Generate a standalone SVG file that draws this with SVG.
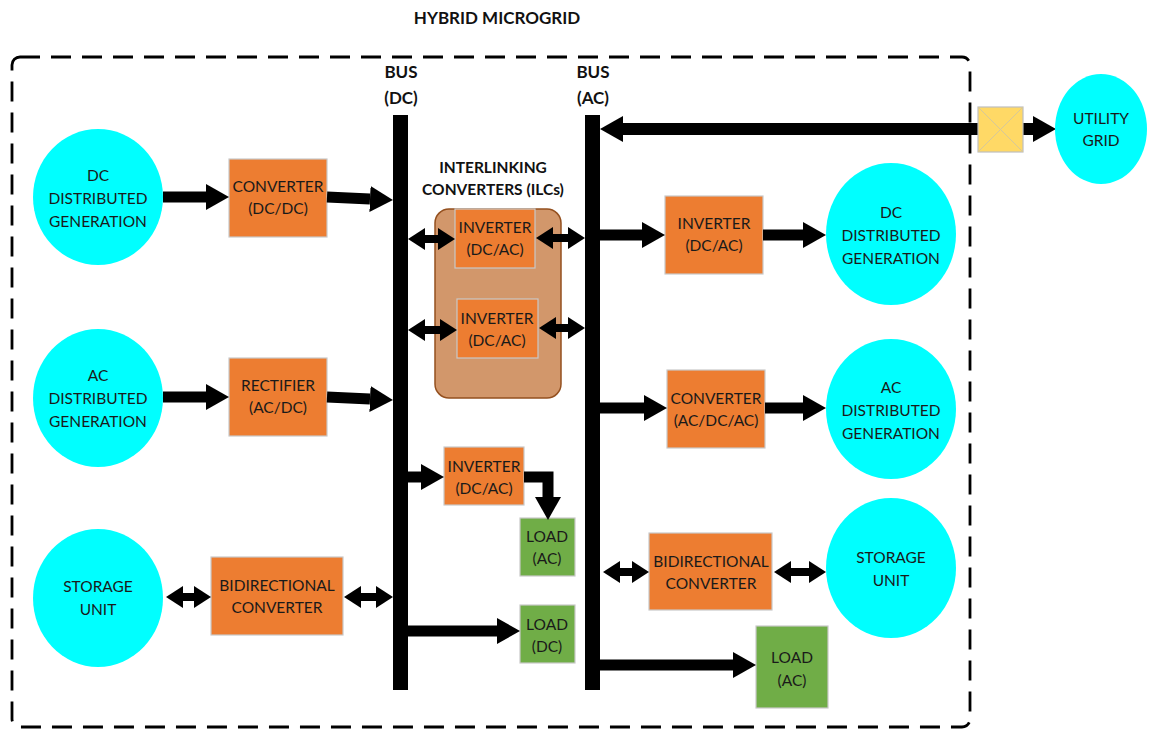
<svg xmlns="http://www.w3.org/2000/svg" width="1152" height="731" viewBox="0 0 1152 731">
  <style>
    text { font-family: Lato, "Open Sans", "Liberation Sans", sans-serif; font-size: 15.5px; fill: #1a1a1a; text-anchor: middle; }
    .bold { font-weight: bold; font-size: 17px; fill: #111; }
    .src { fill: #00FFFF; }
    .conv { fill: #ED7D31; stroke: #C9C9C9; stroke-width: 1.2; }
    .load { fill: #70AD47; stroke: #C9C9C9; stroke-width: 1.2; }
    .bus { fill: #000; }
    .arrow { stroke: #000; stroke-width: 11; fill: none; marker-end: url(#head); }
    .dbl { stroke: #000; stroke-width: 8; fill: none; marker-start: url(#dhead); marker-end: url(#dhead); }
  </style>
  <defs>
    <marker id="head" markerUnits="userSpaceOnUse" markerWidth="24" markerHeight="28" refX="0" refY="14" orient="auto">
      <path d="M0,1 L23,14 L0,27 z" fill="#000"/>
    </marker>
    <marker id="dhead" markerUnits="userSpaceOnUse" markerWidth="18" markerHeight="24" refX="0" refY="12" orient="auto-start-reverse">
      <path d="M0,1 L17,12 L0,23 z" fill="#000"/>
    </marker>
  </defs>

  <!-- title and microgrid boundary -->
  <text class="bold" x="497" y="24">HYBRID MICROGRID</text>
  <rect x="12" y="57" width="958" height="670" rx="8" fill="none" stroke="#000" stroke-width="2.8" stroke-dasharray="20,11"/>

  <!-- buses -->
  <g id="bus-dc">
    <rect class="bus" x="393" y="115" width="15" height="575"/>
    <text class="bold" x="401" y="78">BUS</text>
    <text class="bold" x="401" y="104">(DC)</text>
  </g>
  <g id="bus-ac">
    <rect class="bus" x="585" y="115" width="15" height="575"/>
    <text class="bold" x="593" y="78">BUS</text>
    <text class="bold" x="593" y="104">(AC)</text>
  </g>

  <!-- left side sources -->
  <g id="dc-dg-left">
    <ellipse class="src" cx="98" cy="197" rx="65" ry="68"/>
    <text x="98" y="181">DC</text>
    <text x="98" y="204">DISTRIBUTED</text>
    <text x="98" y="227">GENERATION</text>
  </g>
  <g id="ac-dg-left">
    <ellipse class="src" cx="98" cy="398" rx="65" ry="69"/>
    <text x="98" y="381">AC</text>
    <text x="98" y="404">DISTRIBUTED</text>
    <text x="98" y="427">GENERATION</text>
  </g>
  <g id="storage-left">
    <ellipse class="src" cx="98" cy="598" rx="65" ry="69"/>
    <text x="98" y="592">STORAGE</text>
    <text x="98" y="615">UNIT</text>
  </g>

  <g id="converter-dcdc">
    <rect class="conv" x="229" y="159" width="98" height="78"/>
    <text x="278" y="192">CONVERTER</text>
    <text x="278" y="214">(DC/DC)</text>
  </g>
  <g id="rectifier">
    <rect class="conv" x="229" y="358" width="98" height="78"/>
    <text x="278" y="391">RECTIFIER</text>
    <text x="278" y="413">(AC/DC)</text>
  </g>
  <g id="bidir-left">
    <rect class="conv" x="211" y="557" width="132" height="78"/>
    <text x="277" y="591">BIDIRECTIONAL</text>
    <text x="277" y="613">CONVERTER</text>
  </g>

  <!-- interlinking converters -->
  <g id="ilc">
    <text class="bold" x="493" y="173" style="font-size:15.5px">INTERLINKING</text>
    <text class="bold" x="493" y="195" style="font-size:15.5px">CONVERTERS (ILCs)</text>
    <rect x="435" y="209" width="126" height="189" rx="14" fill="#D2976B" stroke="#94501F" stroke-width="1.5"/>
  </g>
  <g id="ilc-inverter-1">
    <rect class="conv" x="455" y="209" width="80" height="59"/>
    <text x="495" y="233">INVERTER</text>
    <text x="495" y="255">(DC/AC)</text>
  </g>
  <g id="ilc-inverter-2">
    <rect class="conv" x="457" y="299" width="81" height="59"/>
    <text x="497" y="324">INVERTER</text>
    <text x="497" y="346">(DC/AC)</text>
  </g>

  <g id="inverter-load">
    <rect class="conv" x="444" y="447" width="80" height="58"/>
    <text x="484" y="472">INVERTER</text>
    <text x="484" y="494">(DC/AC)</text>
  </g>
  <g id="load-ac-dc-bus">
    <rect class="load" x="520" y="518" width="55" height="58"/>
    <text x="547" y="542">LOAD</text>
    <text x="547" y="564">(AC)</text>
  </g>
  <g id="load-dc">
    <rect class="load" x="520" y="605" width="55" height="58"/>
    <text x="547" y="630">LOAD</text>
    <text x="547" y="652">(DC)</text>
  </g>

  <!-- right side -->
  <g id="inverter-right">
    <rect class="conv" x="665" y="196" width="98" height="78"/>
    <text x="714" y="229">INVERTER</text>
    <text x="714" y="251">(DC/AC)</text>
  </g>
  <g id="dc-dg-right">
    <ellipse class="src" cx="891" cy="234" rx="65" ry="71"/>
    <text x="891" y="218">DC</text>
    <text x="891" y="241">DISTRIBUTED</text>
    <text x="891" y="264">GENERATION</text>
  </g>
  <g id="converter-acdcac">
    <rect class="conv" x="667" y="370" width="98" height="78"/>
    <text x="716" y="404">CONVERTER</text>
    <text x="716" y="426">(AC/DC/AC)</text>
  </g>
  <g id="ac-dg-right">
    <ellipse class="src" cx="891" cy="409" rx="65" ry="70"/>
    <text x="891" y="393">AC</text>
    <text x="891" y="416">DISTRIBUTED</text>
    <text x="891" y="439">GENERATION</text>
  </g>
  <g id="bidir-right">
    <rect class="conv" x="649" y="533" width="123" height="77"/>
    <text x="711" y="567">BIDIRECTIONAL</text>
    <text x="711" y="589">CONVERTER</text>
  </g>
  <g id="storage-right">
    <ellipse class="src" cx="891" cy="568" rx="65" ry="70"/>
    <text x="891" y="563">STORAGE</text>
    <text x="891" y="586">UNIT</text>
  </g>
  <g id="load-ac-right">
    <rect class="load" x="756" y="626" width="72" height="82"/>
    <text x="792" y="663">LOAD</text>
    <text x="792" y="686">(AC)</text>
  </g>

  <!-- connectors, drawn above the node fills -->
  <g id="connectors">
    <path class="arrow" d="M163,197 H206"/>
    <path class="arrow" d="M327,197 L370,199"/>
    <path class="arrow" d="M163,397 H206"/>
    <path class="arrow" d="M327,397 L370,399"/>
    <path class="dbl" d="M183,597 H194"/>
    <path class="dbl" d="M361,597 H376"/>
    <path class="dbl" d="M425,239 H438"/>
    <path class="dbl" d="M553,238 H568"/>
    <path class="dbl" d="M425,330 H440"/>
    <path class="dbl" d="M556,328 H568"/>
    <path class="arrow" d="M408,477 H421"/>
    <path class="arrow" d="M524,477 H548 V497" style="stroke-linejoin:miter"/>
    <path class="arrow" d="M408,631 H497"/>
    <path class="arrow" d="M600,235 H642"/>
    <path class="arrow" d="M763,235 H803"/>
    <path class="arrow" d="M600,408 H644"/>
    <path class="arrow" d="M765,408 H803"/>
    <path class="dbl" d="M620,572 H632"/>
    <path class="dbl" d="M791,572 H809"/>
    <path class="arrow" d="M600,665 H733"/>
    <path class="arrow" d="M978,129 H623" style="stroke-width:12"/>
    <path class="arrow" d="M1023,129 H1033" style="stroke-width:12"/>
  </g>

  <!-- utility connection -->
  <g id="switch">
    <rect x="978" y="107" width="45" height="45" fill="#FFD966" stroke="#BFBFBF" stroke-width="1.2"/>
    <path d="M978,107 L1023,152 M1023,107 L978,152" stroke="#D6C89A" stroke-width="1"/>
  </g>
  <g id="utility-grid">
    <ellipse class="src" cx="1101" cy="129" rx="46" ry="55"/>
    <text x="1101" y="124">UTILITY</text>
    <text x="1101" y="146">GRID</text>
  </g>
</svg>
